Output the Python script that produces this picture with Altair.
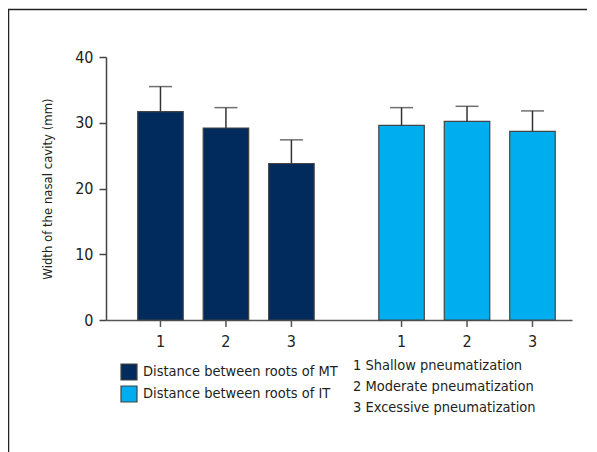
import altair as alt
import pandas as pd

groups = ["MT", "IT"]
levels = ["1", "2", "3"]
series_names = ["Distance between roots of MT", "Distance between roots of IT"]
mt_means = [31.7, 29.2, 23.8]
mt_upper = [35.5, 32.3, 27.4]
it_means = [29.6, 30.2, 28.7]
it_upper = [32.3, 32.5, 31.8]
notes = ["1 Shallow pneumatization", "2 Moderate pneumatization", "3 Excessive pneumatization"]
y_ticks = [0, 10, 20, 30, 40]

rows = []
for g, name, means, ups in [("MT", series_names[0], mt_means, mt_upper),
                            ("IT", series_names[1], it_means, it_upper)]:
    for lv, m, u in zip(levels, means, ups):
        rows.append({"group": g, "series": name, "level": lv, "mean": m, "upper": u})
df = pd.DataFrame(rows)

FONT = "DejaVu Sans Condensed, sans-serif"
TXT = "#231f20"
W, H = 466, 263

xs = alt.X("group:N", sort=groups, title=None,
           scale=alt.Scale(domain=groups, paddingInner=0.185, paddingOuter=0.059, align=0.763),
           axis=alt.Axis(labels=False, ticks=False, domain=True, domainColor="#555",
                         domainWidth=1.5, grid=False))
xo = alt.XOffset("level:N", sort=levels,
                 scale=alt.Scale(domain=levels, paddingInner=0.305, paddingOuter=0.153))

base = alt.Chart(df)

bars = base.mark_bar(stroke="#444", strokeWidth=1.2).encode(
    x=xs, xOffset=xo,
    y=alt.Y("mean:Q", scale=alt.Scale(domain=[0, 40], nice=False),
            axis=alt.Axis(values=y_ticks, title="Width of the nasal cavity (mm)",
                          titleFont=FONT, titleFontSize=13, titleFontWeight="normal",
                          titleColor=TXT, titlePadding=20,
                          labelFont=FONT, labelFontSize=16, labelColor=TXT, labelPadding=6,
                          tickSize=7, tickColor="#444", tickWidth=1.5,
                          domainColor="#444", domainWidth=1.5, grid=False)),
    color=alt.Color("series:N", sort=series_names,
                    scale=alt.Scale(domain=series_names, range=["#002B5C", "#00AEEF"]),
                    legend=alt.Legend(orient="none", legendX=14, legendY=306, title=None,
                                      symbolType="square", symbolSize=256,
                                      symbolStrokeColor="#444", symbolStrokeWidth=1.2,
                                      labelFont=FONT, labelFontSize=14.5, labelColor=TXT,
                                      labelOffset=5, rowPadding=0, labelLimit=400))
)

err = base.mark_rule(color="#333", strokeWidth=1.5).encode(
    x=xs, xOffset=xo, y="mean:Q", y2="upper:Q")
caps = base.mark_tick(color="#333", thickness=1.5, size=23, orient="horizontal").encode(
    x=xs, xOffset=xo, y="upper:Q")

ticks = base.mark_rule(color="#555", strokeWidth=1.5).encode(
    x=xs, xOffset=xo, y=alt.value(H), y2=alt.value(H + 7))
tick_labels = base.mark_text(font=FONT, fontSize=16, color=TXT, baseline="middle").encode(
    x=xs, xOffset=xo, y=alt.value(H + 22), text="level:N")

note_text = alt.Chart(pd.DataFrame({"k": [0]})).mark_text(
    text=notes, font=FONT, fontSize=14.5, color=TXT, align="left", baseline="top",
    lineHeight=21).encode(x=alt.value(247), y=alt.value(302))

frame = alt.Chart(pd.DataFrame({"k": [0]})).mark_rect(
    fill="transparent", stroke="#222", strokeWidth=1.5).encode(
    x=alt.value(-97.5), y=alt.value(-47.5), x2=alt.value(700), y2=alt.value(600))

chart = alt.layer(frame, bars, err, caps, ticks, tick_labels, note_text).properties(
    width=W, height=H,
    autosize="none",
    padding={"left": 98, "top": 49, "right": 15, "bottom": 132},
    background="white",
).configure_view(strokeWidth=0, stroke="transparent")

chart.save("out.html", embed_options={"renderer": "svg", "actions": False})
